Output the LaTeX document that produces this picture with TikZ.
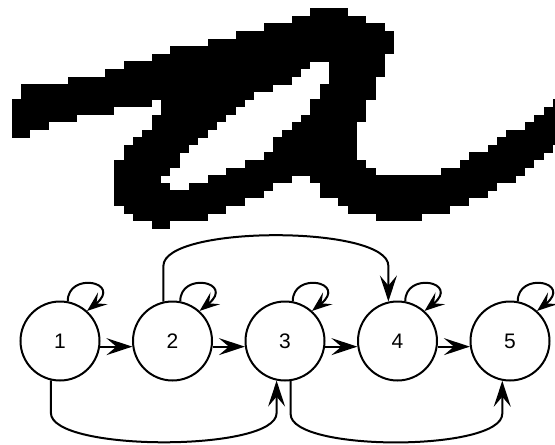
\documentclass[tikz,border=0pt]{standalone}
\usepackage{fontspec}
\setmainfont{Liberation Sans}
\usetikzlibrary{arrows.meta,calc}
\begin{document}
\begin{tikzpicture}[x=1pt,y=-1pt,
  state/.style={circle,draw=black,line width=2pt,minimum size=79pt,inner sep=0pt,
    font=\fontsize{21}{22}\selectfont},
  arr/.style={line width=2pt,-{Stealth[length=26pt,width=17pt,inset=10pt]}},
  looparr/.style={line width=2pt,-{Stealth[length=20pt,width=15pt,inset=8pt]}},
  ink/.style={fill=black}]
\useasboundingbox (0,0) rectangle (555,445);
% handwritten stroke (pixel cells)
\foreach \j/\a/\b in {0/32/36,1/30/38,2/27/40,3/24/41,4/21/41,5/17/41,6/15/40,
  7/12/32,7/34/40,8/10/31,8/34/40,9/6/30,9/34/39,10/1/28,10/33/39,11/1/26,11/33/39,
  12/0/15,12/16/25,12/32/38,12/58/60,
  13/0/11,13/16/24,13/32/38,13/57/60,
  14/0/7,14/15/23,14/31/38,14/56/60,
  15/0/4,15/15/22,15/30/37,15/55/60,
  16/0/2,16/14/21,16/29/37,16/53/60,
  17/13/20,17/28/37,17/52/60,
  18/12/19,18/28/37,18/51/58,
  19/12/18,19/27/37,19/49/57,
  20/11/18,20/25/38,20/48/56,
  21/11/17,21/23/39,21/46/55,
  22/11/16,22/21/30,22/32/54,
  23/11/17,23/19/28,23/33/52,
  24/11/27,24/33/51,
  25/11/25,25/35/49,
  26/12/23,26/36/47,
  27/13/21,27/39/44,
  28/15/17}
  \fill[ink] ({11.7+9.33*\a},{8.3+7.586*\j}) rectangle ({11.7+9.33*\b},{8.3+7.586*\j+7.986});
% states
\node[state] (n1) at (60,341) {1};
\node[state] (n2) at (172.5,341) {2};
\node[state] (n3) at (285,341) {3};
\node[state] (n4) at (397.5,341) {4};
\node[state] (n5) at (510,341) {5};
% forward transitions
\draw[arr] (n1.-8.5) -- (n2.188.5);
\draw[arr] (n2.-8.5) -- (n3.188.5);
\draw[arr] (n3.-8.5) -- (n4.188.5);
\draw[arr] (n4.-8.5) -- (n5.188.5);
% self loops
\foreach \i in {1,...,5}
  \draw[looparr] (n\i.79) .. controls +(0,-30) and +(36,-29) .. (n\i.48);
% skip transitions
\draw[arr] (n2.103.6) -- ++(0,-35.6) .. controls +(0,-41) and +(0,-41) .. ($(n4.103.6)+(0,-35.6)$) -- (n4.103.6);
\draw[arr] (n1.257.9) -- ++(0,32.5) .. controls +(0,39) and +(0,39) .. ($(n3.258.6)+(0,32.5)$) -- (n3.258.6);
\draw[arr] (n3.278.5) -- ++(0,33) .. controls +(0,38) and +(0,38) .. ($(n5.259.3)+(0,33)$) -- (n5.259.3);
\end{tikzpicture}
\end{document}
